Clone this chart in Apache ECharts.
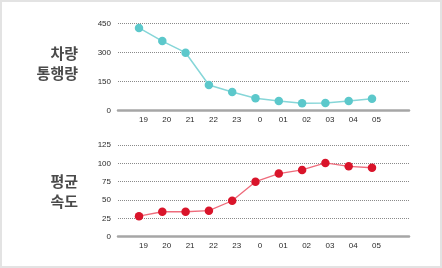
<!DOCTYPE html>
<html><head><meta charset="utf-8">
<script src="https://cdn.jsdelivr.net/npm/echarts@6/dist/echarts.min.js"></script>
<style>
html,body{margin:0;padding:0;background:#fff;}
#c{width:442px;height:268px;position:relative;}
#b{position:absolute;left:0;top:0;width:442px;height:268px;box-sizing:border-box;border:2px solid #e3e3e3;pointer-events:none;}
</style></head>
<body>
<div id="c"></div><div id="b"></div>
<script>
const categories = ['19','20','21','22','23','0','01','02','03','04','05'];
const trafficValues = [428, 360, 300, 133, 97, 64, 50, 38, 40, 50, 62];
const speedValues = [28, 34, 34, 35.5, 49, 75, 86, 91, 100.5, 96, 94];
const trafficTicks = [0, 150, 300, 450];
const speedTicks = [0, 25, 50, 75, 100, 125];
const trafficTitle = '차량\n통행량';
const speedTitle = '평균\n속도';

const chart = echarts.init(document.getElementById('c'), null, {renderer:'canvas'});
const labelFont = {fontSize: 8, color: '#2a2a2a', fontFamily: 'Liberation Sans'};
const gridLine = {show:true, lineStyle:{type:[1,1], color:'#8a8a8a', width:1}};

function bgAxes(gridIndex, ticks){
  return {
    x: {type:'value', gridIndex, min:0, max:1, show:true,
        axisLine:{show:true, lineStyle:{color:'#a6a6a6', width:2.5}},
        axisTick:{show:false}, axisLabel:{show:false}, splitLine:{show:false}},
    y: {type:'value', gridIndex, min:ticks[0], max:ticks[ticks.length-1], interval:ticks[1]-ticks[0],
        axisLine:{show:false}, axisTick:{show:false},
        axisLabel:Object.assign({margin:7}, labelFont), splitLine:Object.assign({}, gridLine, {
          interval: function(i){ return i>0; }
        })}
  };
}
const g0 = bgAxes(0, trafficTicks), g2 = bgAxes(2, speedTicks);

function dataAxes(gridIndex, ticks){
  return {
    x: {type:'category', gridIndex, data:categories, boundaryGap:false,
        axisLine:{show:false}, axisTick:{show:false},
        axisLabel:Object.assign({margin:5, padding:[0,0,0,9], interval:0}, labelFont), splitLine:{show:false}},
    y: {type:'value', gridIndex, min:ticks[0], max:ticks[ticks.length-1], show:false, splitLine:{show:false}}
  };
}
const g1 = dataAxes(1, trafficTicks), g3 = dataAxes(3, speedTicks);

chart.setOption({
  animation:false,
  grid:[
    {left:118, right:33, top:23.7, bottom:157.3},
    {left:139, right:70, top:23.7, bottom:157.3},
    {left:118, right:33, top:145, bottom:31.3},
    {left:139, right:70, top:145, bottom:31.3}
  ],
  xAxis:[g0.x, g1.x, g2.x, g3.x],
  yAxis:[g0.y, g1.y, g2.y, g3.y],
  graphic:[
    {type:'text', x:78, y:63.5, style:{text:trafficTitle, align:'right', verticalAlign:'middle',
      fontSize:15, lineHeight:20, fontWeight:'bold', fill:'#4a4a4a', fontFamily:'Noto Sans CJK KR'}},
    {type:'text', x:78, y:191.5, style:{text:speedTitle, align:'right', verticalAlign:'middle',
      fontSize:15, lineHeight:20, fontWeight:'bold', fill:'#4a4a4a', fontFamily:'Noto Sans CJK KR'}}
  ],
  series:[
    {type:'line', xAxisIndex:1, yAxisIndex:1, data:trafficValues, symbol:'circle', symbolSize:8.5,
     lineStyle:{color:'#86d6d8', width:1.5}, itemStyle:{color:'#5cc8cb'}},
    {type:'line', xAxisIndex:3, yAxisIndex:3, data:speedValues, symbol:'circle', symbolSize:8.5,
     lineStyle:{color:'#ee6b7b', width:1.3}, itemStyle:{color:'#d9142a'}}
  ]
});
</script>
</body></html>
